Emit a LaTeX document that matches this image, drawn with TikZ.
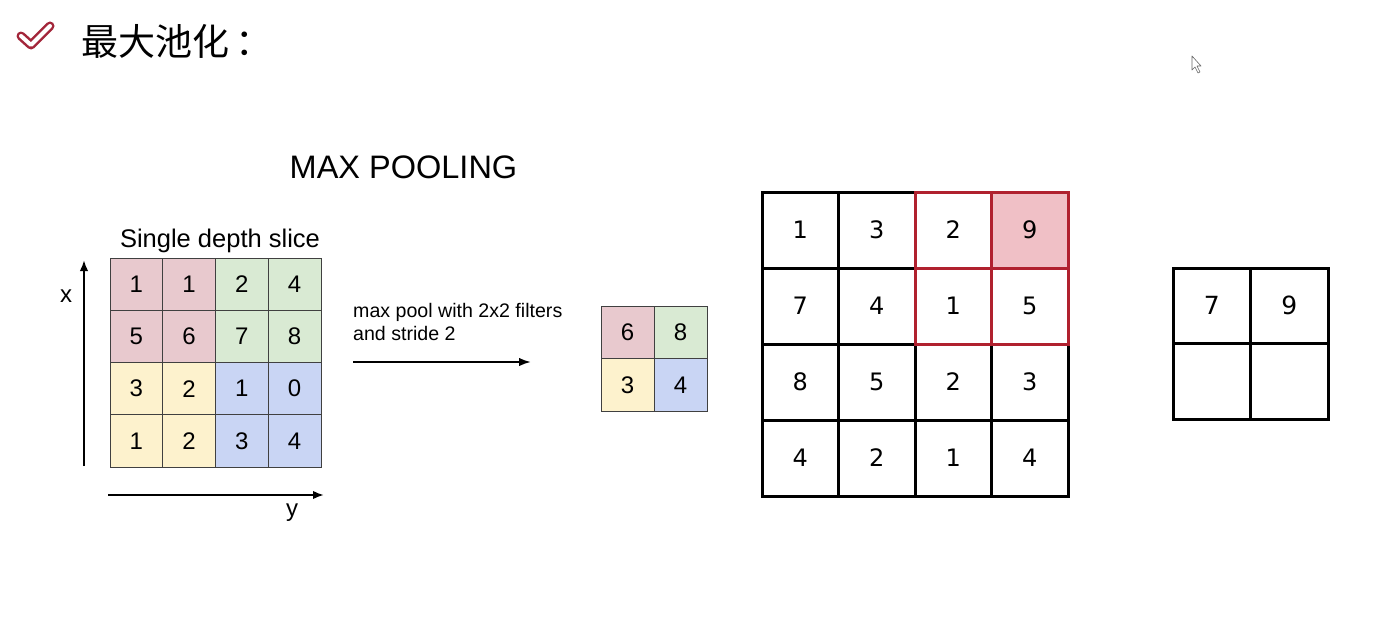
\documentclass[tikz,border=0pt]{standalone}
\usepackage{fontspec}
\setmainfont{Liberation Sans}
\newfontfamily\cjk{Noto Sans CJK SC}
\newfontfamily\dvs{DejaVu Sans}
\usetikzlibrary{arrows.meta}
\definecolor{cpink}{HTML}{E8C9CE}
\definecolor{cgreen}{HTML}{D9EAD3}
\definecolor{cyellow}{HTML}{FDF2CD}
\definecolor{cblue}{HTML}{C9D5F4}
\definecolor{cred}{HTML}{B0212F}
\definecolor{cfill}{HTML}{F0C0C6}
\definecolor{ccheck}{HTML}{A3263A}
\begin{document}
\begin{tikzpicture}[x=1pt,y=-1pt,
  lcell/.style={draw=black!75,line width=0.8pt,rectangle,inner sep=0pt,outer sep=0pt,minimum width=52.75pt,minimum height=52.25pt,font=\fontsize{24}{28}\selectfont},
  scell/.style={draw=black!75,line width=0.8pt,rectangle,inner sep=0pt,outer sep=0pt,minimum width=53pt,minimum height=52.5pt,font=\fontsize{24}{28}\selectfont},
  bcell/.style={draw=black,line width=3pt,rectangle,inner sep=0pt,outer sep=0pt,minimum width=76.5pt,minimum height=76pt,font=\dvs\fontsize{24}{28}\selectfont},
  rcell/.style={draw=black,line width=3pt,rectangle,inner sep=0pt,outer sep=0pt,minimum width=77.5pt,minimum height=75.5pt,font=\dvs\fontsize{25}{28}\selectfont},
  redline/.style={draw=cred,line width=3pt},
  axis/.style={line width=2pt,-{Latex[length=11pt,width=8.5pt]}}]
\useasboundingbox (0,0) rectangle (1384,642);
\fill[white] (0,0) rectangle (1384,642);

% title
\draw[ccheck,line width=9pt,line cap=round,line join=round] (21,36) -- (31,45) -- (50,26);
\draw[white,line width=4pt,line cap=round,line join=round] (21,36) -- (31,45) -- (50,26);
\node[anchor=west,inner sep=0pt,font=\cjk\fontsize{37}{42}\selectfont] (title) at (81,41) {最大池化\kern6pt：};

% cursor
\draw[black!60,fill=white,line width=0.6pt,line join=round] (1192,56) -- (1192,70) -- (1195,67) -- (1198,73) -- (1200,72) -- (1197,66) -- (1201,66) -- cycle;

% MAX POOLING
\node[font=\fontsize{32.5}{36}\selectfont,inner sep=0pt] (mp) at (403.5,167) {MAX POOLING};
\node[font=\fontsize{25.5}{30}\selectfont,anchor=base,inner sep=0pt] (sds) at (220,247) {Single depth slice};

% left grid
\foreach \r/\c/\v/\col in {1/1/1/cpink,1/2/1/cpink,1/3/2/cgreen,1/4/4/cgreen,
  2/1/5/cpink,2/2/6/cpink,2/3/7/cgreen,2/4/8/cgreen,
  3/1/3/cyellow,3/2/2/cyellow,3/3/1/cblue,3/4/0/cblue,
  4/1/1/cyellow,4/2/2/cyellow,4/3/3/cblue,4/4/4/cblue}
  \node[lcell,fill=\col] (L\r\c) at ({110+(\c-0.5)*52.75},{258+(\r-0.5)*52.25}) {\v};

% axes
\coordinate (xa0) at (84,466);
\coordinate (xa1) at (84,260);
\draw[axis] (xa0) -- (xa1);
\node[font=\fontsize{24}{28}\selectfont,inner sep=0pt] (xl) at (66,296) {x};
\coordinate (ya0) at (108,495);
\coordinate (ya1) at (324,495);
\draw[axis] (ya0) -- (ya1);
\node[font=\fontsize{24}{28}\selectfont,inner sep=0pt] (yl) at (292,513) {y};

% arrow text
\node[anchor=north west,align=left,inner sep=0pt,font=\fontsize{19.6}{23}\selectfont] (mtxt) at (353,303) {max pool with 2x2 filters\\and stride 2};
\coordinate (ar0) at (353,362);
\coordinate (ar1) at (531,362);
\draw[line width=2pt,-{Latex[length=12pt,width=8.5pt]}] (ar0) -- (ar1);

% small grid
\foreach \r/\c/\v/\col in {1/1/6/cpink,1/2/8/cgreen,2/1/3/cyellow,2/2/4/cblue}
  \node[scell,fill=\col] (S\r\c) at ({601+(\c-0.5)*53},{306+(\r-0.5)*52.5}) {\v};

% big grid
\fill[cfill] (991.5,192) rectangle (1068,268);
\foreach \r/\c/\v in {1/1/1,1/2/3,1/3/2,1/4/9,2/1/7,2/2/4,2/3/1,2/4/5,3/1/8,3/2/5,3/3/2,3/4/3,4/1/4,4/2/2,4/3/1,4/4/4}
  \node[bcell] (B\r\c) at ({762+(\c-0.5)*76.5},{192+(\r-0.5)*76}) {\v};
\draw[redline] (B13.north west) rectangle (B24.south east);
\draw[redline] (B13.north east) -- (B23.south east);
\draw[redline] (B13.south west) -- (B14.south east);

% right grid
\foreach \r/\c/\v in {1/1/7,1/2/9,2/1/{},2/2/{}}
  \node[rcell] (R\r\c) at ({1173+(\c-0.5)*77.5},{268+(\r-0.5)*75.5}) {\v};
\end{tikzpicture}
\end{document}
